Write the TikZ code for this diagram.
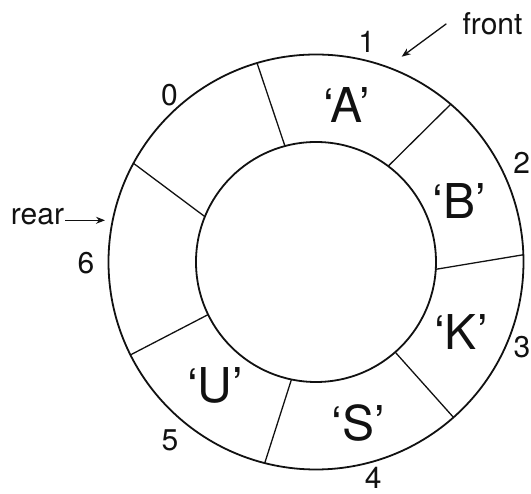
\documentclass[tikz,border=0pt]{standalone}
\usepackage{fontspec}
\setmainfont{TeX Gyre Heros}
\usetikzlibrary{arrows.meta,positioning,calc}
\definecolor{Ink}{HTML}{111111}
\tikzset{
  ring/.style={draw=Ink,line width=1.8pt},
  slot/.style={draw=Ink,line width=1.3pt},
  idx/.style={font=\fontsize{30}{30}\selectfont,text=Ink,inner sep=1pt},
  val/.style={font=\fontsize{48}{48}\selectfont,text=Ink,inner sep=1pt},
  lbl/.style={font=\fontsize{30}{30}\selectfont,text=Ink,inner sep=1pt},
  arr/.style={-{Stealth[length=9pt,width=7pt]},line width=1.3pt,draw=Ink},
}

\begin{document}
\begin{tikzpicture}[x=1pt,y=1pt,line join=round]
\useasboundingbox (-316,-232) rectangle (215,262);
\coordinate (O) at (0,0);
\draw[ring] (O) circle[radius=207.5];
\draw[ring] (O) circle[radius=120];
% slot borders: outer angle / inner angle
\foreach \ao/\ai in {106.5/105,49.5/53,2/-3.5,-48.5/-48.7,-104.3/-101.8,-153.4/-154,151.6/157.8}
  \draw[slot] (\ao:207.5) -- (\ai:120);
% indices
\node[idx] (i0) at (-146.5,167.3) {0};
\node[idx] (i1) at (50.7,220.3) {1};
\node[idx] (i2) at (205.7,98.7) {2};
\node[idx] (i3) at (206,-84.7) {3};
\node[idx] (i4) at (57.3,-215.5) {4};
\node[idx] (i5) at (-146,-178) {5};
\node[idx] (i6) at (-230,-1.3) {6};
% stored values
\node[val] (vA) at (30.7,157) {‘A’};
\node[val] (vB) at (143.3,60.8) {‘B’};
\node[val] (vK) at (145,-69.8) {‘K’};
\node[val] (vS) at (42.3,-161.3) {‘S’};
\node[val] (vU) at (-101,-123) {‘U’};
% pointers
\node[lbl] (front) at (176.5,238.2) {front};
\coordinate (fronttip) at (85.7,205.3);
\draw[arr] ([xshift=-15pt]front.west) -- (fronttip);
\node[lbl] (rear) at (-278.5,45.5) {rear};
\coordinate (reartip) at (-211,41.7);
\draw[arr] (rear.east |- reartip) -- (reartip);
\end{tikzpicture}
\end{document}
